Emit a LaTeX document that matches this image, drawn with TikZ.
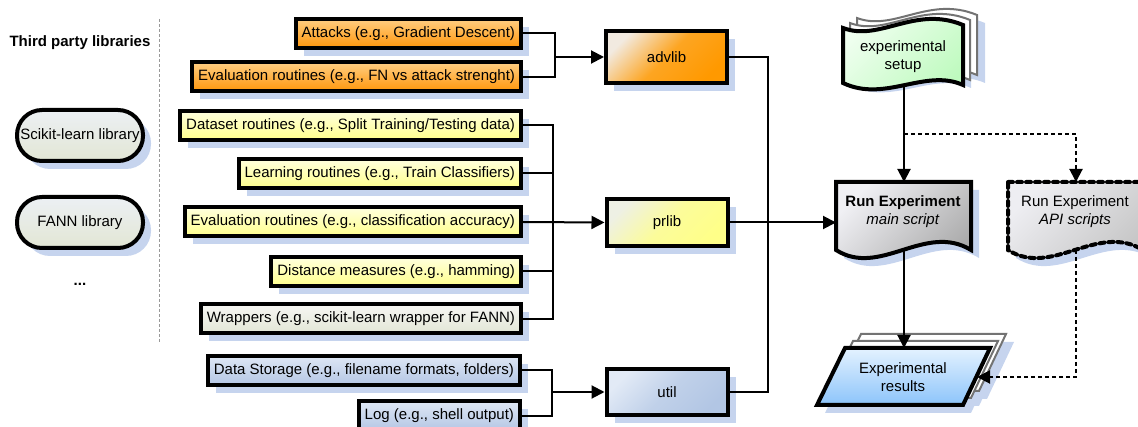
\documentclass[tikz,border=0pt]{standalone}
\usepackage{fontspec}
\setmainfont{Liberation Sans}
\usetikzlibrary{arrows.meta,shadows}
\definecolor{shblue}{RGB}{198,212,238}
\definecolor{oTop}{RGB}{255,206,130}
\definecolor{oBot}{RGB}{255,150,10}
\definecolor{yTop}{RGB}{255,255,222}
\definecolor{yBot}{RGB}{255,255,140}
\definecolor{gTop}{RGB}{246,246,242}
\definecolor{gBot}{RGB}{226,230,214}
\definecolor{bTop}{RGB}{222,231,245}
\definecolor{bBot}{RGB}{180,198,228}
\definecolor{advTop}{RGB}{242,234,224}
\definecolor{advBot}{RGB}{255,153,0}
\definecolor{prTop}{RGB}{238,240,228}
\definecolor{prBot}{RGB}{255,255,136}
\definecolor{uTop}{RGB}{226,234,246}
\definecolor{uBot}{RGB}{178,198,228}
\definecolor{lTop}{RGB}{236,240,244}
\definecolor{lBot}{RGB}{226,230,212}
\definecolor{rTop}{RGB}{240,240,244}
\definecolor{rBot}{RGB}{168,168,168}
\definecolor{aTop}{RGB}{238,238,242}
\definecolor{aBot}{RGB}{196,196,196}
\definecolor{sTop}{RGB}{242,255,242}
\definecolor{sBot}{RGB}{190,250,190}
\definecolor{reTop}{RGB}{228,242,255}
\definecolor{reBot}{RGB}{140,196,250}
\begin{document}
\begin{tikzpicture}[x=1pt,y=-1pt,
  font=\fontsize{15}{18}\selectfont,
  sh/.style={drop shadow={shadow xshift=8pt,shadow yshift=-8pt,fill=shblue,opacity=1}},
  box/.style={draw, line width=4pt, minimum height=29pt, inner xsep=6pt, inner ysep=0pt, anchor=east, sh},
  obox/.style={box, top color=oTop, bottom color=oBot},
  ybox/.style={box, top color=yTop, bottom color=yBot},
  gbox/.style={box, top color=gTop, bottom color=gBot},
  bbox/.style={box, top color=bTop, bottom color=bBot},
  libbox/.style={draw, line width=4pt, minimum width=121pt, sh},
  tpl/.style={draw, line width=4pt, minimum width=126pt, minimum height=51pt, rounded corners=25pt, sh, top color=lTop, bottom color=lBot},
  conn/.style={line width=2pt},
  arr/.style={conn, -{Triangle[length=13pt,width=13pt]}},
  darr/.style={arr, dash pattern=on 4pt off 3pt},
  outl/.style={draw, line width=4pt},
  copyshape/.style={draw=black!55, line width=2pt, fill=white},
  txt/.style={align=center, inner sep=0pt}
]
\useasboundingbox (0,0) rectangle (1138,427);
\clip (0,0) rectangle (1138,427);

% left column
\node[font=\fontsize{15}{18}\selectfont\bfseries] (third) at (80,43) {Third party libraries};
\node[tpl] (scikit) at (80,135.5) {Scikit-learn library};
\node[tpl] (fann) at (80,222.5) {FANN library};
\node[font=\fontsize{15}{18}\selectfont\bfseries] (dots) at (80,284) {...};
\draw[gray!80, line width=0.8pt, dash pattern=on 3pt off 2pt] (159,19) -- (159,343);

% module boxes
\node[obox] (attacks) at (523,33.5) {Attacks (e.g., Gradient Descent)};
\node[obox] (evalfn) at (523,77) {Evaluation routines (e.g., FN vs attack strenght)};
\node[ybox] (dataset) at (523,125.5) {Dataset routines (e.g., Split Training/Testing data)};
\node[ybox] (learning) at (523,173.5) {Learning routines (e.g., Train Classifiers)};
\node[ybox] (evalca) at (523,222) {Evaluation routines (e.g., classification accuracy)};
\node[ybox] (distance) at (523,271.5) {Distance measures (e.g., hamming)};
\node[gbox] (wrappers) at (523,319) {Wrappers (e.g., scikit-learn wrapper for FANN)};
\node[bbox] (storage) at (522,370.5) {Data Storage (e.g., filename formats, folders)};
\node[bbox] (logbox) at (522,416) {Log (e.g., shell output)};

% libraries
\node[libbox, minimum height=52pt, top color=advTop, bottom color=advBot, middle color=advBot!85!advTop, shading angle=45] (advlib) at (666.5,57) {advlib};
\node[libbox, minimum height=47pt, top color=prTop, bottom color=prBot, middle color=prBot!80!prTop, shading angle=45] (prlib) at (667,222.5) {prlib};
\node[libbox, minimum height=46pt, top color=uTop, bottom color=uBot, middle color=uBot!70!uTop, shading angle=45] (util) at (667,392) {util};

% bus coordinates
\coordinate (advbus) at (555,57);
\coordinate (prbus) at (553,222.5);
\coordinate (utilbus) at (552,392);
\coordinate (rbus) at (768,222.5);

\draw[conn] (attacks.east) -| (advbus);
\draw[conn] (evalfn.east) -| (advbus);
\draw[arr] (advbus) -- (advlib.west);

\draw[conn] (dataset.east) -| (prbus);
\draw[conn] (learning.east) -| (prbus);
\draw[conn] (distance.east) -| (prbus);
\draw[conn] (wrappers.east) -| (prbus);
\draw[arr] (evalca.east) -- (prlib.west);

\draw[conn] (storage.east) -| (utilbus);
\draw[conn] (logbox.east) -| (utilbus);
\draw[arr] (utilbus) -- (util.west);

\draw[conn] (advlib.east) -| (rbus);
\draw[conn] (util.east) -| (rbus);

% experimental setup (stacked wave)
\foreach \dx/\dy in {22/-2,15/-7,8/3}{
  \fill[shblue, shift={(\dx,\dy)}] (843,28) .. controls (880,42) and (915,5) .. (963,25) -- (963,85) .. controls (925,68) and (885,103) .. (843,83) -- cycle;
}
\path[copyshape, shift={(14,-10)}] (843,28) .. controls (880,42) and (915,5) .. (963,25) -- (963,85) .. controls (925,68) and (885,103) .. (843,83) -- cycle;
\path[copyshape, shift={(7,-5)}] (843,28) .. controls (880,42) and (915,5) .. (963,25) -- (963,85) .. controls (925,68) and (885,103) .. (843,83) -- cycle;
\path[outl, top color=sTop, bottom color=sBot, shading angle=45] (843,28) .. controls (880,42) and (915,5) .. (963,25) -- (963,85) .. controls (925,68) and (885,103) .. (843,83) -- cycle;
\node[txt] (setup) at (903,57) {experimental\\setup};

% run experiment main script
\fill[shblue, shift={(8,8)}] (836,182) -- (971,182) -- (971,250) .. controls (925,222) and (880,278) .. (836,250) -- cycle;
\path[outl, top color=rTop, bottom color=rBot, shading angle=45] (836,182) -- (971,182) -- (971,250) .. controls (925,222) and (880,278) .. (836,250) -- cycle;
\node[txt] (run) at (903,212) {\textbf{Run Experiment}\\\textit{main script}};

% run experiment API scripts
\fill[shblue, shift={(180,8)}] (836,182) -- (971,182) -- (971,250) .. controls (925,222) and (880,278) .. (836,250) -- cycle;
\path[outl, dash pattern=on 5pt off 4pt, line cap=round, top color=aTop, bottom color=aBot, shading angle=45, shift={(172,0)}] (836,182) -- (971,182) -- (971,250) .. controls (925,222) and (880,278) .. (836,250) -- cycle;
\node[txt] (api) at (1075,212) {Run Experiment\\\textit{API scripts}};

% experimental results (stacked parallelogram)
\foreach \dx/\dy in {24/-6,16/1,8/8}{
  \fill[shblue, shift={(\dx,\dy)}] (845,348) -- (990,348) -- (963,405) -- (817,405) -- cycle;
}
\path[copyshape, shift={(16,-14)}] (845,348) -- (990,348) -- (963,405) -- (817,405) -- cycle;
\path[copyshape, shift={(8,-7)}] (845,348) -- (990,348) -- (963,405) -- (817,405) -- cycle;
\path[outl, top color=reTop, bottom color=reBot] (845,348) -- (990,348) -- (963,405) -- (817,405) -- cycle;
\node[txt] (results) at (903,377) {Experimental\\results};

% connector end points on drawn shapes
\coordinate (setupS) at (904,85);
\coordinate (split) at (904,134);
\coordinate (runN) at (904,182);
\coordinate (runW) at (836,222.5);
\coordinate (runS) at (904,250);
\coordinate (apiN) at (1076,182);
\coordinate (apiS) at (1076,250);
\coordinate (resN) at (904,348);
\coordinate (resE) at (977,377);

\draw[arr] (prlib.east) -- (runW);
\draw[arr] (setupS) -- (runN);
\draw[darr] (split) -| (apiN);
\draw[arr] (runS) -- (resN);
\draw[darr] (apiS) |- (resE);
\end{tikzpicture}
\end{document}
